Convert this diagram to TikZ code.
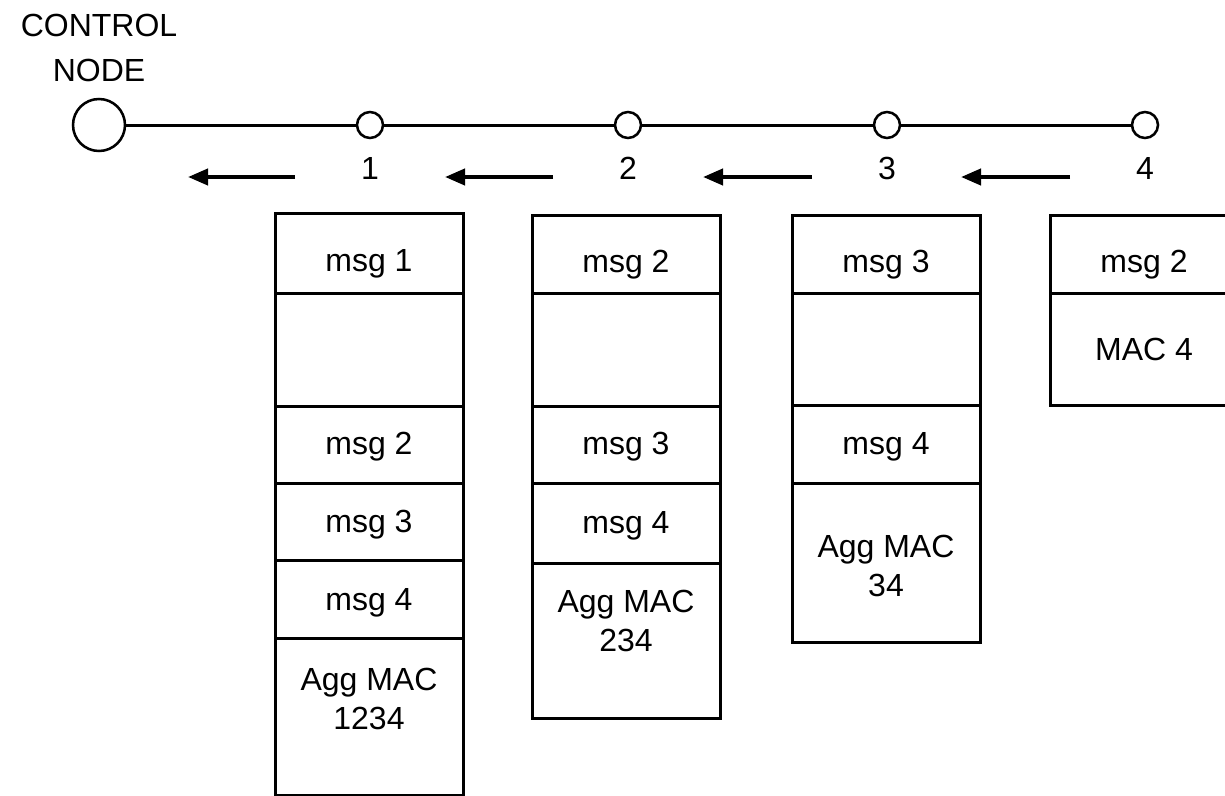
\documentclass[tikz,border=0pt]{standalone}
\usepackage{fontspec}
\setmainfont{Liberation Sans}
\usetikzlibrary{positioning,arrows.meta}

\tikzset{every picture/.style={line width=0.75pt}}
\tikzset{
  wire/.style={line width=2.25pt},
  bignode/.style={draw, circle, line width=1.9pt, minimum size=39pt, inner sep=0pt},
  hop/.style={draw, circle, line width=1.9pt, minimum size=19.5pt, inner sep=0pt},
  flow/.style={line width=3pt, -{Triangle[length=15pt,width=12pt]}},
  lbl/.style={inner sep=0.75pt, font=\fontsize{24}{33.75}\selectfont, align=center},
  cell/.style={draw, line width=2.25pt, minimum width=141pt, inner sep=0pt, outer sep=0pt,
    font=\fontsize{24}{29}\selectfont, align=center},
  toprow/.style={cell, minimum height=58.5pt, text height=32pt, anchor=north west},
}

\begin{document}
\begin{tikzpicture}[x=0.75pt,y=0.75pt,yscale=-1,xscale=1]
\useasboundingbox (0,0) rectangle (1225,796);
\clip (0,0) rectangle (1225,796);

% Chain of nodes
\node[lbl] (ctrltxt) at (99,48) {CONTROL\\NODE};
\node[bignode] (ctrl) at (99,125) {};
\node[hop] (n1) at (370,125) {};
\node[hop] (n2) at (628,125) {};
\node[hop] (n3) at (887,125) {};
\node[hop] (n4) at (1145,125) {};
\draw[wire] (ctrl) -- (n1) -- (n2) -- (n3) -- (n4);

% Node numbers
\node[lbl] (l1) at (370,168) {1};
\node[lbl] (l2) at (628,168) {2};
\node[lbl] (l3) at (887,168) {3};
\node[lbl] (l4) at (1145,168) {4};

% Arrows
\coordinate (a1s) at (295,177); \coordinate (a1e) at (188,177);
\coordinate (a2s) at (553,177); \coordinate (a2e) at (445,177);
\coordinate (a3s) at (812,177); \coordinate (a3e) at (703,177);
\coordinate (a4s) at (1070,177); \coordinate (a4e) at (961,177);
\draw[flow] (a1s) -- (a1e);
\draw[flow] (a2s) -- (a2e);
\draw[flow] (a3s) -- (a3e);
\draw[flow] (a4s) -- (a4e);

% Stack at node 1
\node[toprow, minimum height=60pt] (s1a) at (275,213) {msg 1};
\node[cell, minimum height=84.75pt, below=0pt of s1a] (s1b) {};
\node[cell, minimum height=57.75pt, text height=20pt, below=0pt of s1b] (s1c) {msg 2};
\node[cell, minimum height=57.75pt, text height=21pt, below=0pt of s1c] (s1d) {msg 3};
\node[cell, minimum height=58.5pt, text height=22pt, below=0pt of s1d] (s1e) {msg 4};
\node[cell, minimum height=117.75pt, text depth=27pt, below=0pt of s1e] (s1f) {Agg MAC\\1234};

% Stack at node 2
\node[toprow] (s2a) at (532,215) {msg 2};
\node[cell, minimum height=84.75pt, below=0pt of s2a] (s2b) {};
\node[cell, minimum height=57.75pt, text height=20pt, below=0pt of s2b] (s2c) {msg 3};
\node[cell, minimum height=60pt, text height=20pt, below=0pt of s2c] (s2d) {msg 4};
\node[cell, minimum height=116.25pt, text depth=30pt, below=0pt of s2d] (s2e) {Agg MAC\\234};

% Stack at node 3
\node[toprow] (s3a) at (792,215) {msg 3};
\node[cell, minimum height=84pt, below=0pt of s3a] (s3b) {};
\node[cell, minimum height=58.5pt, text height=20pt, below=0pt of s3b] (s3c) {msg 4};
\node[cell, minimum height=119.25pt, text height=51pt, below=0pt of s3c] (s3d) {Agg MAC\\34};

% Stack at node 4
\node[toprow] (s4a) at (1050,215) {msg 2};
\node[cell, minimum height=84pt, below=0pt of s4a] (s4b) {MAC 4};

\end{tikzpicture}
\end{document}
